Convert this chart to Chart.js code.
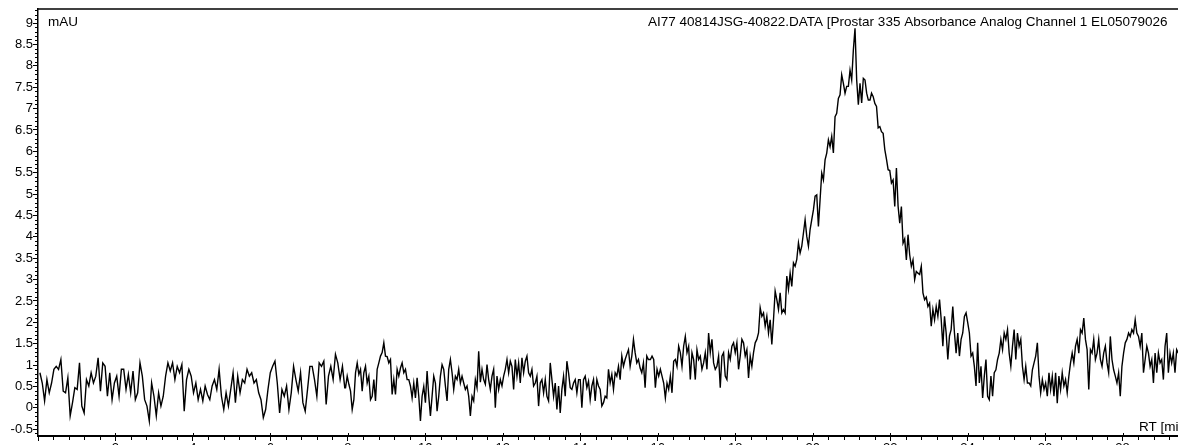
<!DOCTYPE html>
<html lang="en">
<head>
<meta charset="UTF-8" />
<title>AI77 40814JSG-40822 chromatogram</title>
<script src="https://cdn.jsdelivr.net/npm/chart.js@4.4.0/dist/chart.umd.min.js"></script>
<style>
  html, body { margin: 0; padding: 0; background: #fff; overflow: hidden; }
  canvas { display: block; }
</style>
</head>
<body>
<canvas id="chrom" width="1200" height="470"></canvas>
<script>
// Detector trace (mAU) in four runs of evenly spaced samples
const segAStart = 0.05, segAEnd = 7.92;
const segA = [
  0.82,0.58,0.16,0.66,0.35,0.58,0.90,0.97,0.90,1.13,
  0.39,0.35,0.70,-0.19,0.12,0.47,0.43,1.05,0.04,-0.12,
  0.66,0.51,0.82,0.58,0.74,1.17,0.39,1.05,0.97,0.27,
  0.82,0.19,0.58,0.74,0.27,0.90,0.90,0.43,0.78,0.35,
  0.86,0.19,0.35,1.05,0.74,0.19,0.04,-0.31,0.58,0.27,
  -0.19,0.35,0.04,0.27,0.74,1.05,0.86,1.05,0.66,0.97,
  0.82,1.01,-0.08,0.66,0.90,0.74,0.35,0.58,0.19,0.43,
  0.16,0.51,0.31,0.19,0.51,0.66,0.43,0.90,0.27,-0.04,
  0.35,0.04,0.43,0.82,0.12,0.74,0.35,0.66,0.58,0.90,
  0.74,0.82,0.58,0.66,0.35,0.19,-0.23,-0.04,0.43,0.82,
  0.97,1.09,0.58,-0.12,0.43,0.27,0.51,-0.04,0.35,0.97,
  0.66,0.39,0.82,0.12,-0.08,0.43,0.97,0.97,0.66,0.27,
  1.05,0.97,1.09,0.08,0.74,0.97,0.66,1.25,1.05,0.66,
  0.97,0.47
];

const segBStart = 7.94, segBEnd = 15.76;
const segB = [
  0.47,0.74,0.55,0.39,-0.04,0.19,0.82,1.05,0.78,0.90,
  0.39,0.82,0.97,0.58,0.74,0.19,0.27,0.66,0.16,0.90,
  1.05,1.21,1.29,1.52,1.21,1.20,1.05,1.13,0.31,0.66,
  0.31,0.90,0.74,0.93,1.05,0.82,0.90,0.66,0.66,0.51,
  0.23,0.58,0.23,0.70,0.27,-0.31,0.27,0.50,0.12,0.86,
  0.27,-0.19,0.27,0.74,0.58,-0.08,0.27,0.74,1.01,0.90,
  0.51,0.16,0.90,1.13,0.82,0.43,0.74,0.66,0.90,0.58,
  0.74,0.58,0.43,0.51,0.27,-0.19,0.27,0.16,0.66,0.47,
  1.32,0.60,0.90,0.66,0.55,1.01,0.66,0.43,0.74,0.90,
  0.00,0.74,0.43,0.66,0.51,0.74,0.90,1.13,0.82,1.09,
  0.97,0.43,1.13,0.74,1.05,0.58,1.17,0.82,1.09,1.21,
  0.82,0.74,0.90,0.51,0.58,0.74,0.04,0.58,0.66,0.35,
  0.66,0.27,0.16,1.05,0.66,0.27,0.58,-0.04,0.51,-0.12,
  0.43,0.74,0.27,1.09,0.82,0.47,0.43,0.58,0.66,0.35,
  0.66,0.66,0.00,0.66,0.74,0.47,0.62,0.19,0.51,0.66,
  0.16,0.66,0.51,0.43,0.04,0.12,0.27,0.23,0.90,0.58,
  0.78,0.43,0.82,0.74,0.97,0.66,1.21,0.97,1.13,1.25,
  1.36,0.97,1.21,1.60,1.29,1.05,1.13,0.93,0.82,1.05,
  0.47,1.21,1.13
];

const segCStart = 15.81, segCEnd = 21.48;
const segC = [
  1.13,1.21,1.13,0.47,0.90,0.74,0.90,0.74,0.58,0.23,
  0.58,0.43,0.74,0.35,1.09,1.13,0.97,1.44,1.29,0.97,
  1.44,1.67,1.29,1.44,0.66,1.29,1.13,0.66,1.36,1.13,
  1.21,0.90,1.05,1.29,0.90,1.75,1.29,1.60,1.05,0.90,
  0.97,1.21,0.47,1.21,1.29,0.74,0.66,1.29,1.13,1.44,
  1.52,1.29,1.52,0.90,1.21,1.60,1.52,1.21,1.36,0.70,
  1.21,0.97,1.29,1.52,1.60,1.75,2.34,2.14,2.22,1.91,
  2.14,1.75,2.06,1.48,2.06,2.73,2.53,2.30,2.69,2.22,
  2.30,2.22,3.08,2.77,3.15,2.84,3.39,3.31,3.47,3.86,
  3.62,3.78,4.09,4.40,4.01,3.78,4.17,4.40,4.63,4.95,
  4.98,4.24,4.87,5.49,5.33,5.80,5.96,6.27,6.11,6.35,
  5.96,6.81,6.89,7.24,7.32,7.79,7.59,7.36,7.52,7.52,
  7.90,7.67,8.37,8.88,7.67,7.09,7.59,7.13,7.71,7.67,
  7.36,7.20,7.20
];

const segDStart = 21.52, segDEnd = 29.44;
const segD = [
  7.36,7.28,7.12,7.05,6.55,6.58,6.46,6.42,6.04,5.82,
  5.57,5.55,5.26,5.33,4.71,5.61,4.72,4.32,4.71,3.85,
  3.95,3.46,4.05,3.58,3.31,3.46,3.00,3.19,3.15,3.12,
  3.31,2.69,2.53,2.59,2.37,2.45,1.91,2.30,2.06,2.37,
  2.14,2.53,2.07,1.44,2.14,1.75,1.13,1.68,1.83,2.37,
  1.75,1.28,1.75,1.21,1.60,1.75,2.14,2.22,1.99,1.75,
  1.21,1.28,0.97,0.51,1.52,0.58,0.97,0.23,0.74,1.13,
  0.27,0.19,0.74,0.27,0.82,0.89,1.13,1.28,1.60,1.36,
  1.75,1.60,1.83,1.28,0.97,1.44,1.83,1.13,1.75,1.44,
  1.60,0.97,0.66,0.97,0.58,0.58,0.51,0.89,1.05,1.21,
  1.52,0.74,0.35,0.66,0.43,0.58,0.27,0.82,0.43,0.74,
  0.27,0.82,0.11,0.74,0.43,0.82,0.51,0.66,0.35,0.74,
  1.05,1.28,1.05,1.44,1.60,1.28,1.83,1.75,2.10,1.60,
  1.36,0.43,1.36,1.28,1.60,1.13,1.28,1.60,1.13,0.97,
  1.28,1.44,1.05,0.82,1.67,1.13,0.89,0.74,0.58,0.82,
  0.27,0.97,1.28,1.52,1.60,1.75,1.67,1.83,1.75,2.06,
  1.75,1.67,1.44,1.75,0.82,1.13,1.44,1.28,0.97,1.13,
  0.58,1.28,0.82,1.28,1.05,1.13,0.66,1.44,1.75,0.82,
  1.28,1.05,1.28,0.82,1.36,1.28
];

// axis ranges and labels
const rtMin = 0, rtMax = 30, rtStep = 2, rtMinorStep = 0.4;
const mauMin = -0.66, mauMax = 9.33, mauStep = 0.5, mauMinorStep = 0.1;
const yUnit = 'mAU';
const xUnit = 'RT [min]';
const traceName = 'AI77 40814JSG-40822.DATA [Prostar 335 Absorbance Analog Channel 1 EL05079026';

const FONT = '"Liberation Sans", Arial, sans-serif';

// samples are evenly spaced in time inside each run
function run(values, t0, t1) {
  const dt = (t1 - t0) / (values.length - 1);
  return values.map((v, i) => ({ x: t0 + i * dt, y: v }));
}
const trace = [].concat(
  run(segA, segAStart, segAEnd),
  run(segB, segBStart, segBEnd),
  run(segC, segCStart, segCEnd),
  run(segD, segDStart, segDEnd)
);

// frame line on top, minor ticks and the free text labels
const extras = {
  id: 'extras',
  afterDraw(chart) {
    const { ctx, chartArea: a, scales: { x, y } } = chart;
    ctx.save();
    ctx.strokeStyle = '#000';
    ctx.lineWidth = 1.5;
    ctx.beginPath();
    ctx.moveTo(a.left, a.top);
    ctx.lineTo(a.right, a.top);
    ctx.stroke();

    ctx.lineWidth = 1;
    ctx.beginPath();
    for (let k = Math.ceil(mauMin / mauMinorStep); k * mauMinorStep <= mauMax; k++) {
      if (k % 5 === 0) continue;
      const py = Math.round(y.getPixelForValue(k * mauMinorStep)) + 0.5;
      ctx.moveTo(a.left - 3, py);
      ctx.lineTo(a.left, py);
    }
    for (let k = 1; k * rtMinorStep <= rtMax; k++) {
      const px = Math.round(x.getPixelForValue(k * rtMinorStep)) + 0.5;
      if (k % 5 === 0) {
        ctx.moveTo(px, a.bottom - 3);
        ctx.lineTo(px, a.bottom);
      } else {
        ctx.moveTo(px, a.bottom);
        ctx.lineTo(px, a.bottom + 4);
      }
    }
    ctx.stroke();

    ctx.fillStyle = '#000';
    ctx.font = '13.5px ' + FONT;
    ctx.textBaseline = 'middle';
    ctx.textAlign = 'left';
    ctx.fillText(yUnit, a.left + 10, 22);
    ctx.fillText(traceName, 648, 22);
    ctx.fillText(xUnit, 1139, 427);
    ctx.restore();
  }
};

new Chart(document.getElementById('chrom'), {
  type: 'line',
  data: {
    datasets: [{
      data: trace,
      borderColor: '#000',
      borderWidth: 1.4,
      pointRadius: 0,
      tension: 0,
      fill: false
    }]
  },
  options: {
    responsive: false,
    animation: false,
    devicePixelRatio: 1,
    layout: { padding: { top: 9, left: 0, right: 0, bottom: 0 } },
    plugins: { legend: { display: false }, tooltip: { enabled: false } },
    scales: {
      x: {
        type: 'linear',
        min: rtMin,
        max: rtMax,
        border: { color: '#000', width: 2 },
        grid: { drawOnChartArea: false, color: '#000', tickLength: 5 },
        ticks: {
          stepSize: rtStep,
          includeBounds: false,
          autoSkip: false,
          maxRotation: 0,
          padding: 0,
          color: '#000',
          font: { family: FONT, size: 13 },
          callback: v => (v === 0 ? '' : String(v))
        },
        afterFit(s) { s.height = 34; s.paddingLeft = 0; s.paddingRight = 0; }
      },
      y: {
        min: mauMin,
        max: mauMax,
        border: { color: '#000', width: 1.5 },
        grid: { drawOnChartArea: false, color: '#000', tickLength: 5 },
        ticks: {
          stepSize: mauStep,
          includeBounds: false,
          padding: 0,
          color: '#000',
          font: { family: FONT, size: 13 },
          callback: v => String(Math.round(v * 10) / 10)
        },
        afterFit(s) { s.width = 38; s.paddingTop = 0; s.paddingBottom = 0; }
      }
    }
  },
  plugins: [extras]
});
</script>
</body>
</html>
